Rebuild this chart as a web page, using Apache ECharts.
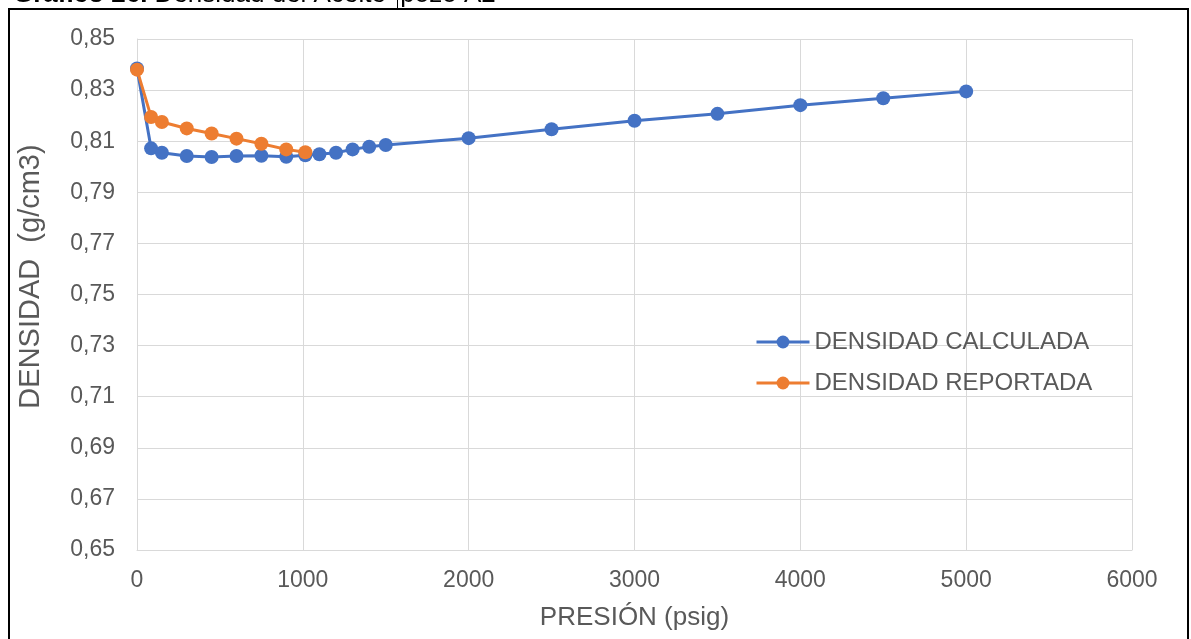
<!DOCTYPE html>
<html>
<head>
<meta charset="utf-8">
<script src="https://cdn.jsdelivr.net/npm/echarts@6/dist/echarts.min.js"></script>
<style>
html,body{margin:0;padding:0;background:#fff;}
#chart{width:1191px;height:639px;}
</style>
</head>
<body>
<div id="chart"></div>
<script>
// ---- data ----
var seriesNames = ['DENSIDAD CALCULADA', 'DENSIDAD REPORTADA'];
var presCalc = [0, 85, 150, 300, 450, 600, 750, 900, 1015, 1100, 1200, 1300, 1400, 1500, 2000, 2500, 3000, 3500, 4000, 4500, 5000];
var densCalc = [0.8385, 0.8072, 0.8055, 0.8042, 0.8038, 0.8042, 0.8043, 0.8039, 0.8045, 0.8049, 0.8055, 0.8068, 0.8078, 0.8085, 0.8112, 0.8147, 0.8180, 0.8207, 0.8241, 0.8268, 0.8295];
var presRep = [0, 85, 150, 300, 450, 600, 750, 900, 1015];
var densRep = [0.8380, 0.8195, 0.8175, 0.8150, 0.8130, 0.8110, 0.8090, 0.8068, 0.8057];
var xTicks = [0, 1000, 2000, 3000, 4000, 5000, 6000];
var yTicks = [0.65, 0.67, 0.69, 0.71, 0.73, 0.75, 0.77, 0.79, 0.81, 0.83, 0.85];
var titleBold = 'Gráfico 26.';
var titleRest = ' Densidad del Aceite  pozo A2';
var xName = 'PRESIÓN (psig)';
var yName = 'DENSIDAD  (g/cm3)';

function pairs(xs, ys) { return xs.map(function (x, i) { return [x, ys[i]]; }); }

var FONT = '"Liberation Sans", Arial, sans-serif';
var chart = echarts.init(document.getElementById('chart'), null, {renderer: 'canvas'});
chart.setOption({
  animation: false,
  backgroundColor: '#ffffff',
  textStyle: {fontFamily: FONT},
  grid: {left: 137, right: 59, top: 39, bottom: 89, containLabel: false},
  legend: {
    orient: 'vertical',
    left: 755,
    top: 330,
    padding: 0,
    itemWidth: 53,
    itemHeight: 16,
    itemGap: 17,
    lineStyle: {width: 3},
    textStyle: {fontFamily: FONT, fontSize: 24, color: '#595959'},
    data: seriesNames
  },
  xAxis: {
    type: 'value',
    min: xTicks[0],
    max: xTicks[xTicks.length - 1],
    interval: xTicks[1] - xTicks[0],
    name: xName,
    nameLocation: 'middle',
    nameGap: 55,
    nameTextStyle: {fontFamily: FONT, fontSize: 26, color: '#595959'},
    axisLine: {show: true, lineStyle: {color: '#d9d9d9', width: 1}},
    axisTick: {show: false},
    axisLabel: {
      fontFamily: FONT, fontSize: 23, color: '#595959', margin: 19,
      formatter: function (v) { return String(v); }
    },
    splitLine: {show: true, lineStyle: {color: '#d9d9d9', width: 1}}
  },
  yAxis: {
    type: 'value',
    min: yTicks[0],
    max: yTicks[yTicks.length - 1],
    interval: 0.02,
    name: yName,
    nameLocation: 'middle',
    nameRotate: 90,
    nameGap: 92,
    nameTextStyle: {fontFamily: FONT, fontSize: 29, color: '#595959', padding: [0, 0, 0, 36]},
    axisLine: {show: true, lineStyle: {color: '#d9d9d9', width: 1}},
    axisTick: {show: false},
    axisLabel: {
      fontFamily: FONT, fontSize: 23, color: '#595959', margin: 22,
      formatter: function (v) { return v.toFixed(2).replace('.', ','); }
    },
    splitLine: {show: true, lineStyle: {color: '#d9d9d9', width: 1}}
  },
  series: [
    {
      name: seriesNames[0],
      type: 'line',
      data: pairs(presCalc, densCalc),
      symbol: 'circle',
      symbolSize: 14,
      lineStyle: {color: '#4472C4', width: 3},
      itemStyle: {color: '#4472C4'}
    },
    {
      name: seriesNames[1],
      type: 'line',
      data: pairs(presRep, densRep),
      symbol: 'circle',
      symbolSize: 14,
      lineStyle: {color: '#ED7D31', width: 3},
      itemStyle: {color: '#ED7D31'}
    }
  ],
  graphic: [
    {
      type: 'rect',
      shape: {x: 9, y: 9, width: 1179, height: 660},
      style: {fill: 'none', stroke: '#000000', lineWidth: 2},
      silent: true, z: 100
    },
    {
      type: 'text',
      x: 13, y: 8,
      style: {
        text: '{b|' + titleBold + '}{n|' + titleRest + '}',
        verticalAlign: 'bottom',
        rich: {
          b: {fontFamily: FONT, fontSize: 26, fontWeight: 'bold', fill: '#000'},
          n: {fontFamily: FONT, fontSize: 26, fill: '#000'}
        }
      },
      silent: true
    },
    {
      type: 'line',
      shape: {x1: 397.5, y1: 0, x2: 397.5, y2: 8},
      style: {stroke: '#000', lineWidth: 1},
      silent: true
    }
  ]
});
</script>
</body>
</html>
